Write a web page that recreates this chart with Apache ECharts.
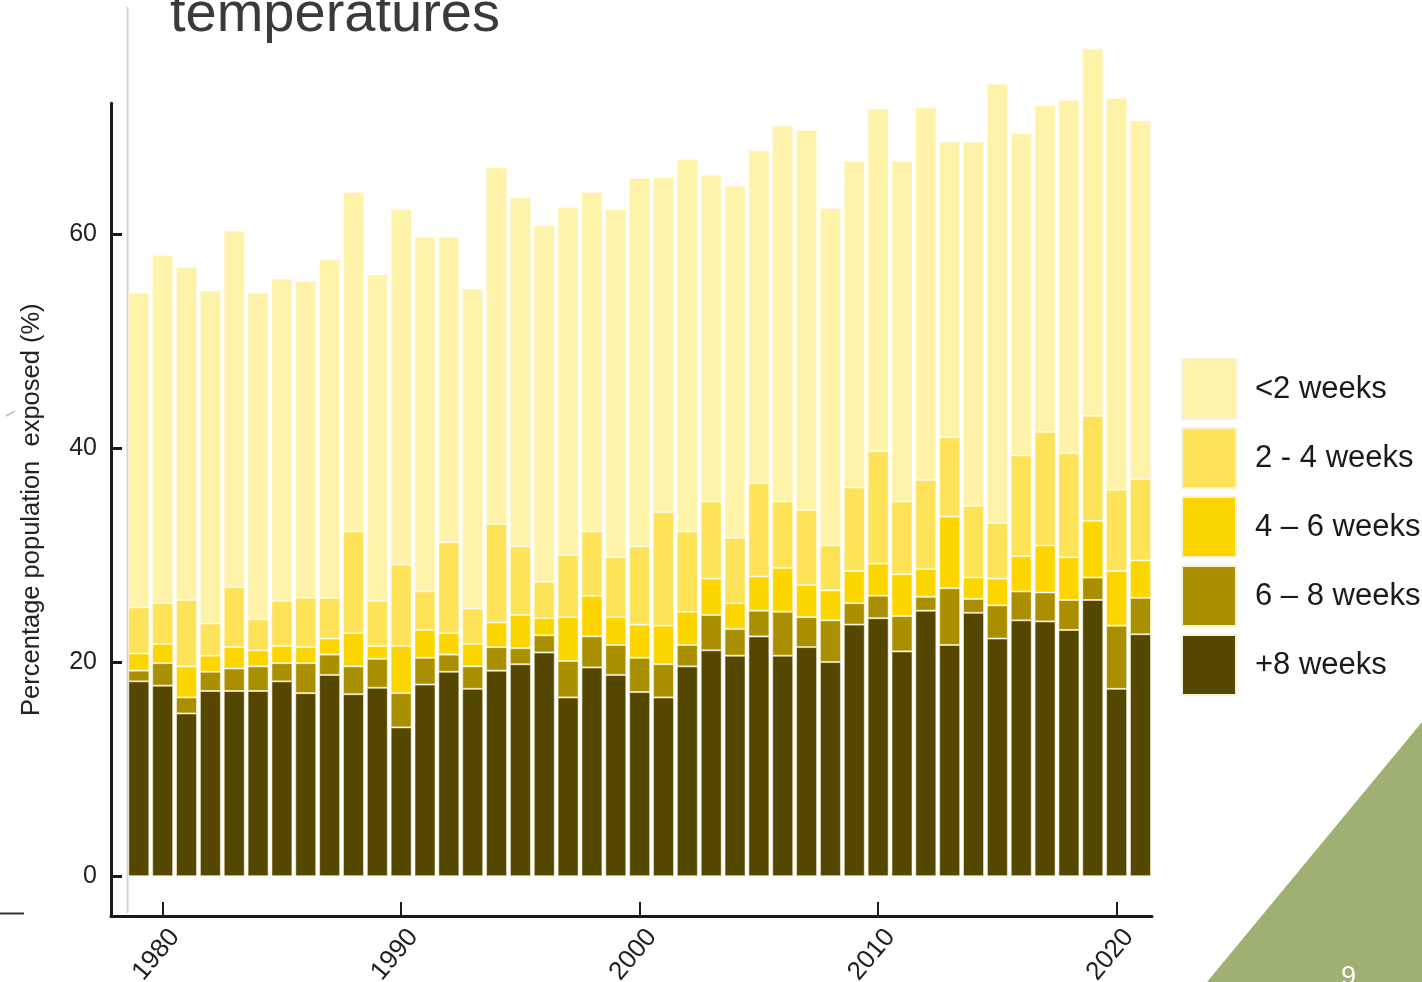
<!DOCTYPE html>
<html>
<head>
<meta charset="utf-8">
<script src="https://cdn.jsdelivr.net/npm/echarts@6/dist/echarts.min.js"></script>
<style>
  html, body { margin: 0; padding: 0; background: #ffffff; }
  #chart { width: 1422px; height: 982px; }
</style>
</head>
<body>
<div id="chart"></div>
<script>
// Years shown on the x axis (one stacked bar per year)
const years = ['1979', '1980', '1981', '1982', '1983', '1984', '1985', '1986', '1987', '1988',
               '1989', '1990', '1991', '1992', '1993', '1994', '1995', '1996', '1997', '1998',
               '1999', '2000', '2001', '2002', '2003', '2004', '2005', '2006', '2007', '2008',
               '2009', '2010', '2011', '2012', '2013', '2014', '2015', '2016', '2017', '2018',
               '2019', '2020', '2021'];

// Share of population exposed (%), split by duration of exposure
const over8Weeks = [18.2, 17.8, 15.2, 17.3, 17.3, 17.3, 18.2, 17.1, 18.8, 17.0,
                    17.6, 13.9, 17.9, 19.1, 17.5, 19.2, 19.8, 20.9, 16.7, 19.5,
                    18.8, 17.2, 16.7, 19.6, 21.1, 20.6, 22.4, 20.6, 21.4, 20.0,
                    23.5, 24.1, 21.0, 24.8, 21.6, 24.6, 22.2, 23.9, 23.8, 23.0,
                    25.8, 17.5, 22.6];
const weeks6to8 = [1.0, 2.1, 1.5, 1.8, 2.1, 2.3, 1.7, 2.8, 1.9, 2.6,
                   2.7, 3.2, 2.5, 1.6, 2.1, 2.2, 1.5, 1.6, 3.4, 2.9,
                   2.8, 3.2, 3.1, 2.0, 3.3, 2.5, 2.4, 4.1, 2.8, 3.9,
                   2.0, 2.1, 3.3, 1.3, 5.3, 1.3, 3.1, 2.7, 2.7, 2.8,
                   2.1, 5.9, 3.4];
const weeks4to6 = [1.6, 1.8, 2.9, 1.5, 2.0, 1.5, 1.6, 1.5, 1.5, 3.1,
                   1.2, 4.4, 2.6, 2.0, 2.1, 2.3, 3.1, 1.6, 4.1, 3.8,
                   2.6, 3.1, 3.6, 3.1, 3.4, 2.4, 3.2, 4.1, 3.0, 2.8,
                   3.0, 3.0, 3.9, 2.6, 6.7, 2.0, 2.5, 3.3, 4.4, 4.0,
                   5.3, 5.1, 3.5];
const weeks2to4 = [4.3, 3.8, 6.2, 3.0, 5.6, 2.9, 4.2, 4.6, 3.8, 9.5,
                   4.2, 7.6, 3.6, 8.5, 3.3, 9.2, 6.4, 3.4, 5.8, 6.0,
                   5.6, 7.3, 10.6, 7.5, 7.2, 6.1, 8.7, 6.2, 7.0, 4.2,
                   7.8, 10.5, 6.8, 8.3, 7.4, 6.7, 5.2, 9.4, 10.6, 9.7,
                   9.8, 7.6, 7.6];
const under2Weeks = [29.4, 32.5, 31.1, 31.1, 33.3, 30.5, 30.1, 29.6, 31.6, 31.7,
                     30.5, 33.2, 33.1, 28.5, 29.9, 33.3, 32.6, 33.3, 32.5, 31.7,
                     32.5, 34.4, 31.3, 34.8, 30.5, 32.9, 31.1, 35.1, 35.5, 31.5,
                     30.5, 32.0, 31.8, 34.8, 27.6, 34.0, 41.0, 30.1, 30.5, 33.0,
                     34.3, 36.6, 33.5];

// Stack order: bottom (longest exposure) to top
const seriesNames = ['+8 weeks', '6 – 8 weeks', '4 – 6 weeks', '2 - 4 weeks', '<2 weeks'];
const seriesValues = [over8Weeks, weeks6to8, weeks4to6, weeks2to4, under2Weeks];
const seriesColors = ['#554700', '#aa9000', '#fdd600', '#fee257', '#fef3a8'];
const legendOrder = ['<2 weeks', '2 - 4 weeks', '4 – 6 weeks', '6 – 8 weeks', '+8 weeks'];

// Tick labels
const xTickYears = [1980, 1990, 2000, 2010, 2020];
const yTickValues = [0, 20, 40, 60];

const FONT = '"Liberation Sans", Arial, Helvetica, sans-serif';

// Shared vertical scale of both grids
const Y_MIN = -3.72;
const Y_MAX = 72.2;

const chart = echarts.init(document.getElementById('chart'), null, { renderer: 'canvas' });

const option = {
  backgroundColor: '#ffffff',
  animation: false,
  grid: [
    // grid 0 holds the bars: one band per year
    { left: 126.9, right: 269.6, top: 103.3, bottom: 66, containLabel: false, outerBoundsMode: 'none' },
    // grid 1 carries the visible axes, whose lines start a little left of the first bar
    { left: 111, right: 270, top: 103.3, bottom: 66, containLabel: false, outerBoundsMode: 'none' }
  ],
  legend: {
    data: legendOrder,
    orient: 'vertical',
    left: 1181,
    top: 358,
    padding: 0,
    itemWidth: 54,
    itemHeight: 60,
    itemGap: 7,
    icon: 'rect',
    selectedMode: false,
    itemStyle: { borderColor: '#f7f2dc', borderWidth: 2 },
    textStyle: { fontFamily: FONT, fontSize: 31, color: '#1a1a1a', padding: [0, 0, 0, 14] }
  },
  xAxis: [
    {
      type: 'category', gridIndex: 0, data: years, show: false,
      boundaryGap: true
    },
    {
      type: 'value', gridIndex: 1,
      min: 1977.834,
      max: 2021.482,
      splitLine: { show: false },
      axisLine: { show: true, onZero: false, lineStyle: { color: '#1b1b12', width: 3 } },
      axisTick: { show: true, inside: true, length: 14, customValues: xTickYears,
                  lineStyle: { color: '#1b1b12', width: 2 } },
      axisLabel: {
        customValues: xTickYears,
        formatter: (v) => String(v),
        rotate: 50,
        align: 'center',
        verticalAlign: 'middle',
        margin: 31,
        padding: [0, 20, 0, 0],
        fontFamily: FONT,
        fontSize: 26,
        color: '#1e1e1e'
      }
    }
  ],
  yAxis: [
    { type: 'value', gridIndex: 0, min: Y_MIN, max: Y_MAX, show: false },
    {
      type: 'value', gridIndex: 1,
      min: Y_MIN,
      max: Y_MAX,
      splitLine: { show: false },
      axisLine: { show: true, onZero: false, lineStyle: { color: '#1b1b12', width: 3 } },
      axisTick: { show: true, inside: true, length: 11, customValues: yTickValues,
                  lineStyle: { color: '#1b1b12', width: 3 } },
      axisLabel: {
        customValues: yTickValues,
        margin: 14,
        fontFamily: FONT,
        fontSize: 25,
        color: '#222222'
      },
      name: 'Percentage population  exposed (%)',
      nameLocation: 'middle',
      nameGap: 66,
      nameRotate: 90,
      nameTextStyle: { fontFamily: FONT, fontSize: 25.5, color: '#222222' }
    }
  ],
  series: seriesNames.map((name, i) => ({
    name: name,
    type: 'bar',
    xAxisIndex: 0,
    yAxisIndex: 0,
    stack: 'exposure',
    barWidth: 21,
    clip: false,
    emphasis: { disabled: true },
    itemStyle: { color: seriesColors[i], borderColor: 'rgba(255,251,228,0.55)', borderWidth: 1 },
    data: seriesValues[i]
  })),
  graphic: [
    // slide heading (continues above the visible area)
    { type: 'text', left: 170, top: -12, z: 10,
      style: { text: 'temperatures', font: '56px ' + FONT, fill: '#3a3a3a' } },
    // thin grey guide line at the left of the plot
    { type: 'line', z: -1, shape: { x1: 127.5, y1: 7, x2: 127.5, y2: 913 },
      style: { stroke: '#d4d4d4', lineWidth: 2 } },
    // short dash at far left
    { type: 'line', shape: { x1: 0, y1: 913.5, x2: 24, y2: 913.5 },
      style: { stroke: '#333333', lineWidth: 2 } },
    { type: 'line', shape: { x1: 6, y1: 416, x2: 15, y2: 411 },
      style: { stroke: '#c0c0c0', lineWidth: 1.5 } },
    // green corner triangle with page number
    { type: 'polygon', shape: { points: [[1207, 982], [1422, 722], [1422, 982]] },
      style: { fill: '#9eb072' } },
    { type: 'text', left: 1341, top: 964,
      style: { text: '9', font: '27px ' + FONT, fill: '#ffffff' } }
  ]
};

chart.setOption(option);
</script>
</body>
</html>
